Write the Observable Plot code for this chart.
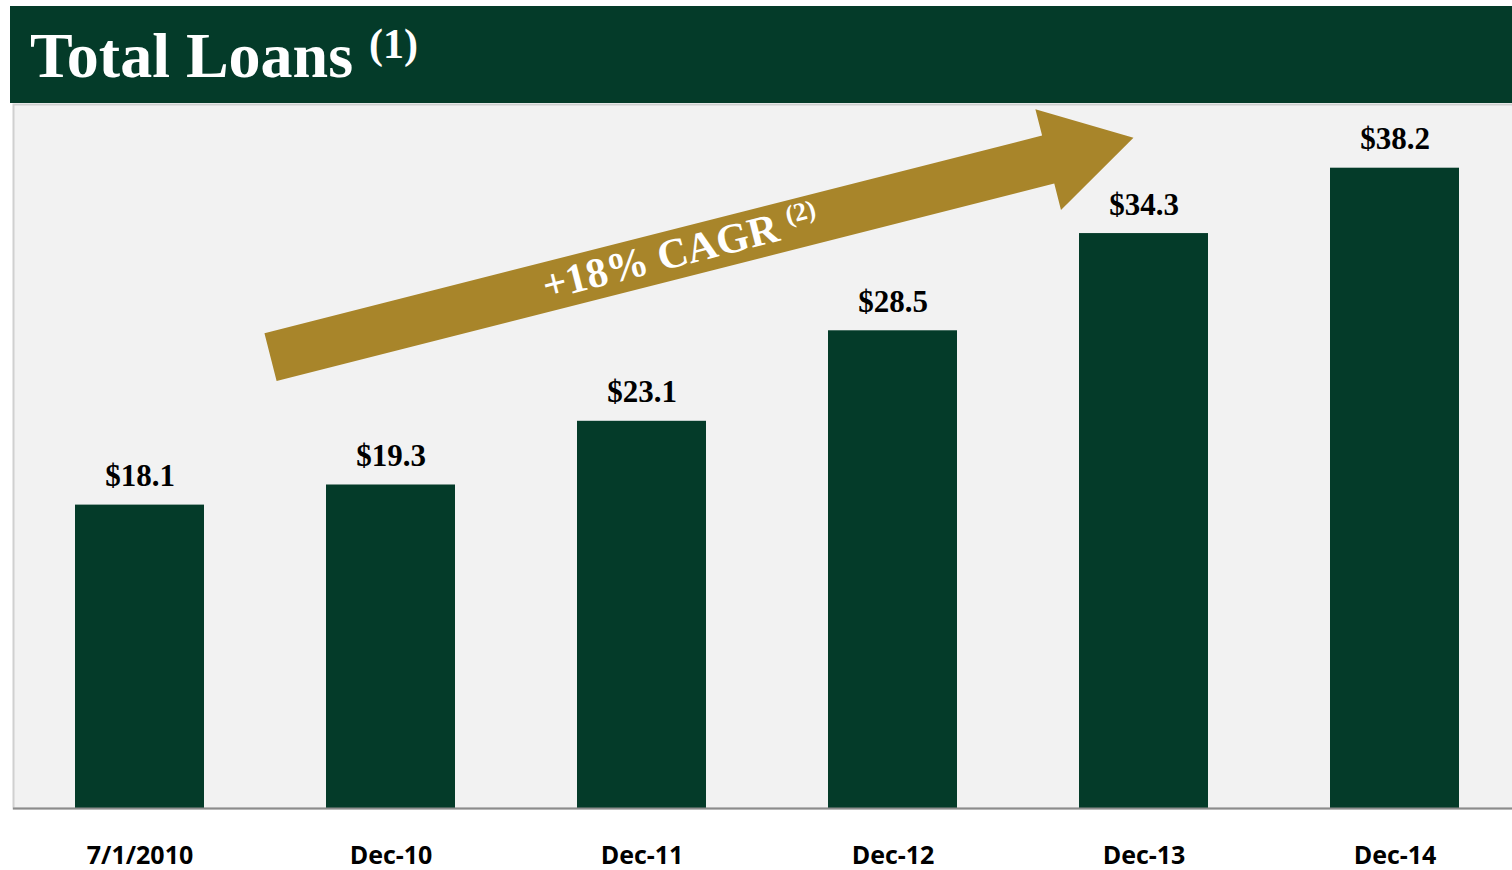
<!DOCTYPE html>
<html>
<head>
<meta charset="utf-8">
<script src="https://cdn.jsdelivr.net/npm/d3@7"></script>
<script src="https://cdn.jsdelivr.net/npm/@observablehq/plot@0.6"></script>
<style>
  html, body { margin: 0; padding: 0; background: #ffffff; overflow: hidden; width: 1512px; height: 870px; }
  #header { position: absolute; left: 10px; top: 6px; width: 1502px; height: 97px; background: #043b29; }
  #title { position: absolute; left: 20px; top: 18px; line-height: 64px; font-family: "Liberation Serif", "Times New Roman", serif; font-weight: bold; font-size: 64px; color: #ffffff; white-space: nowrap; }
  #title .sup { font-size: 42px; position: relative; top: -19px; }
  #chart { position: absolute; left: 0; top: 102px; width: 1512px; height: 768px; overflow: hidden; }
</style>
</head>
<body>
<div id="header"><div id="title">Total Loans <span class="sup">(1)</span></div></div>
<div id="chart"></div>
<script>
// ---- data ----
const dates = ["7/1/2010", "Dec-10", "Dec-11", "Dec-12", "Dec-13", "Dec-14"];
const loans = [18.1, 19.3, 23.1, 28.5, 34.3, 38.2];
const valueLabels = ["$18.1", "$19.3", "$23.1", "$28.5", "$34.3", "$38.2"];
const cagrText = "+18% CAGR";
const cagrNote = "(2)";
// arrow annotation anchored in data space (fractional category index, value)
const arrowTail = {index: 0.522, value: 26.9};
const arrowTip = {index: 3.96, value: 39.98};

const data = dates.map((d, i) => ({date: d, value: loans[i], label: valueLabels[i]}));

const PAD_INNER = 0.486;
const green = "#043b29";
const gold = "#a8852a";

function arrowMark(index, scales, values, dimensions, context) {
  const x = scales.x, y = scales.y;
  const step = x(dates[1]) - x(dates[0]);
  const bw = (x.bandwidth != null && typeof x.bandwidth === "number") ? x.bandwidth : step * (1 - PAD_INNER);
  const cx = (i) => x(dates[0]) + bw / 2 + i * step;
  const x0 = cx(arrowTail.index), y0 = y(arrowTail.value);
  const x1 = cx(arrowTip.index), y1 = y(arrowTip.value);
  const dx = x1 - x0, dy = y1 - y0, L = Math.hypot(dx, dy);
  const ux = dx / L, uy = dy / L;
  const nx = -uy, ny = ux; // normal
  const shaft = 24.7, head = 52, headLen = 88;
  const bx = x1 - headLen * ux, by = y1 - headLen * uy;
  const pts = [
    [x0 - shaft * nx, y0 - shaft * ny],
    [bx - shaft * nx, by - shaft * ny],
    [bx - head * nx, by - head * ny],
    [x1, y1],
    [bx + head * nx, by + head * ny],
    [bx + shaft * nx, by + shaft * ny],
    [x0 + shaft * nx, y0 + shaft * ny]
  ];
  const g = d3.create("svg:g");
  g.append("polygon").attr("points", pts.map(p => p.join(",")).join(" ")).attr("fill", gold);
  const angle = Math.atan2(dy, dx) * 180 / Math.PI;
  const t = 0.475;
  const tx = x0 + t * dx, ty = y0 + t * dy;
  const text = g.append("text")
    .attr("transform", `translate(${tx},${ty}) rotate(${angle})`)
    .attr("text-anchor", "middle")
    .attr("dy", "0.3em")
    .attr("fill", "#ffffff")
    .attr("font-family", "Liberation Serif, Times New Roman, serif")
    .attr("font-weight", "bold")
    .attr("font-size", 42);
  text.append("tspan").text(cagrText + " ");
  text.append("tspan").attr("font-size", 26).attr("dy", "-0.55em").text(cagrNote);
  return g.node();
}

const plot = Plot.plot({
  width: 1516,
  height: 768,
  marginTop: 2,
  marginBottom: 62,
  marginLeft: 13,
  marginRight: 0,
  style: {background: "transparent", maxWidth: "none", overflow: "hidden"},
  x: {domain: dates, range: [14, 1521], paddingInner: PAD_INNER, paddingOuter: 0.243, align: 0.5, label: null, axis: null},
  y: {domain: [0, 42], axis: null},
  marks: [
    Plot.frame({fill: "#f2f2f2", stroke: "#d0d0d0", strokeWidth: 2}),
    Plot.barY(data, {x: "date", y: "value", fill: green}),
    Plot.ruleY([0], {stroke: "#8c8c8c", strokeWidth: 2}),
    arrowMark,
    Plot.text(data, {x: "date", y: "value", text: "label", lineAnchor: "bottom", dy: -19,
      fontFamily: "Liberation Serif, Times New Roman, serif", fontWeight: "bold", fontSize: 31, fill: "#000000"}),
    Plot.axisX({tickSize: 0, tickPadding: 38, fontSize: 25, fontWeight: "bold",
      fontFamily: "Open Sans, sans-serif", fill: "#000000", label: null})
  ]
});
document.getElementById("chart").appendChild(plot);
</script>
</body>
</html>
